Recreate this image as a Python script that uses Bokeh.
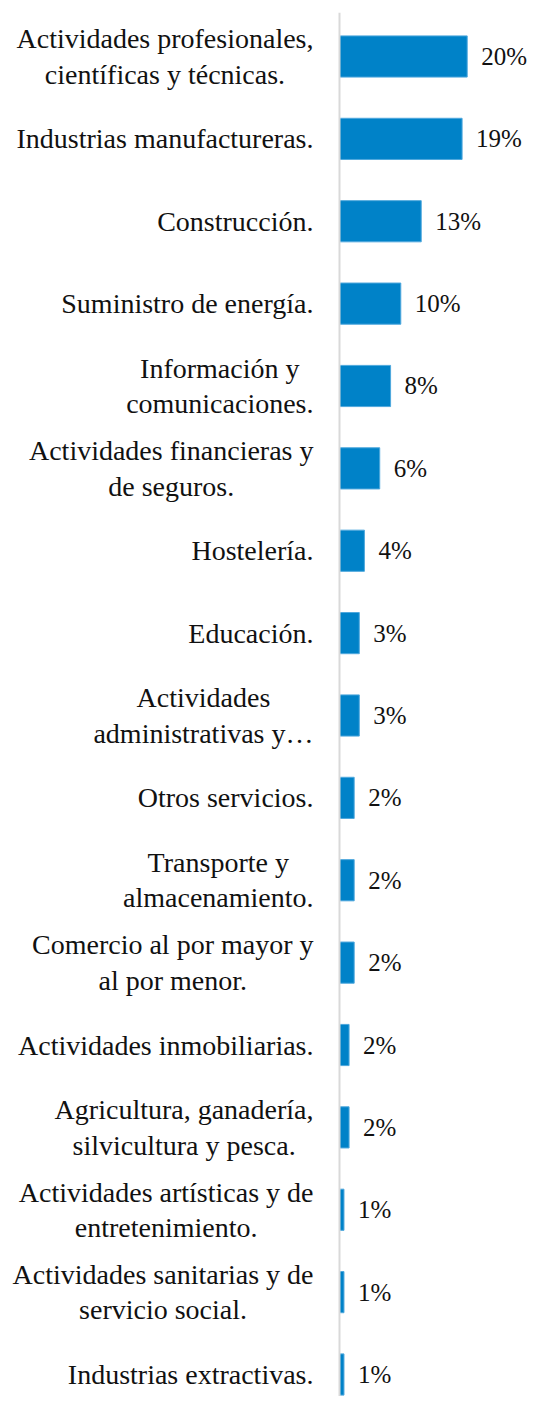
from bokeh.plotting import figure
from bokeh.models import ColumnDataSource, Range1d, Span
from bokeh.core.properties import value
from bokeh.embed import file_html
from bokeh.resources import INLINE

categories = [
    "Actividades profesionales,\ncientíficas y técnicas.",
    "Industrias manufactureras.",
    "Construcción.",
    "Suministro de energía.",
    "Información y\ncomunicaciones.",
    "Actividades financieras y\nde seguros.",
    "Hostelería.",
    "Educación.",
    "Actividades\nadministrativas y…",
    "Otros servicios.",
    "Transporte y\nalmacenamiento.",
    "Comercio al por mayor y\nal por menor.",
    "Actividades inmobiliarias.",
    "Agricultura, ganadería,\nsilvicultura y pesca.",
    "Actividades artísticas y de\nentretenimiento.",
    "Actividades sanitarias y de\nservicio social.",
    "Industrias extractivas.",
]
values = [20.0, 19.2, 12.8, 9.6, 8.0, 6.3, 3.9, 3.1, 3.1, 2.3, 2.3, 2.3, 1.5, 1.5, 0.7, 0.7, 0.7]
value_labels = ["20%", "19%", "13%", "10%", "8%", "6%", "4%", "3%", "3%", "2%", "2%", "2%",
                "2%", "2%", "1%", "1%", "1%"]

pos = list(range(len(categories)))
src = ColumnDataSource(dict(y=pos, v=values, cat=categories, lab=value_labels,
                            zero=[0] * len(pos)))

FONT = value("Liberation Serif")
W, H = 528, 1396
px_per = 6.385
x0_px = 339  # pixel position of zero within the figure
p = figure(width=W, height=H, output_backend="svg", toolbar_location=None,
           x_range=Range1d(-x0_px / px_per, (W - x0_px) / px_per),
           y_range=Range1d(16.267, -0.534),
           min_border_left=0, min_border_right=0, min_border_top=12, min_border_bottom=0)
p.axis.visible = False
p.grid.visible = False
p.outline_line_color = None

p.add_layout(Span(location=0, dimension="height", line_color="#d9d9d9", line_width=2))

p.hbar(y="y", right="v", left=0, height=0.5, source=src,
       fill_color="#0082c8", line_color="#4fa8dd", line_width=1)

p.text(x="v", y="y", text="lab", source=src, x_offset=14,
       text_align="left", text_baseline="middle",
       text_font=FONT, text_font_size="25px", text_color="#111111")

p.text(x="zero", y="y", text="cat", source=src, x_offset=-26,
       anchor="center_right", text_align="center", text_baseline="middle",
       text_line_height=1.14,
       text_font=FONT, text_font_size="28px", text_color="#111111")

open("out.html", "w").write(file_html(p, INLINE))
